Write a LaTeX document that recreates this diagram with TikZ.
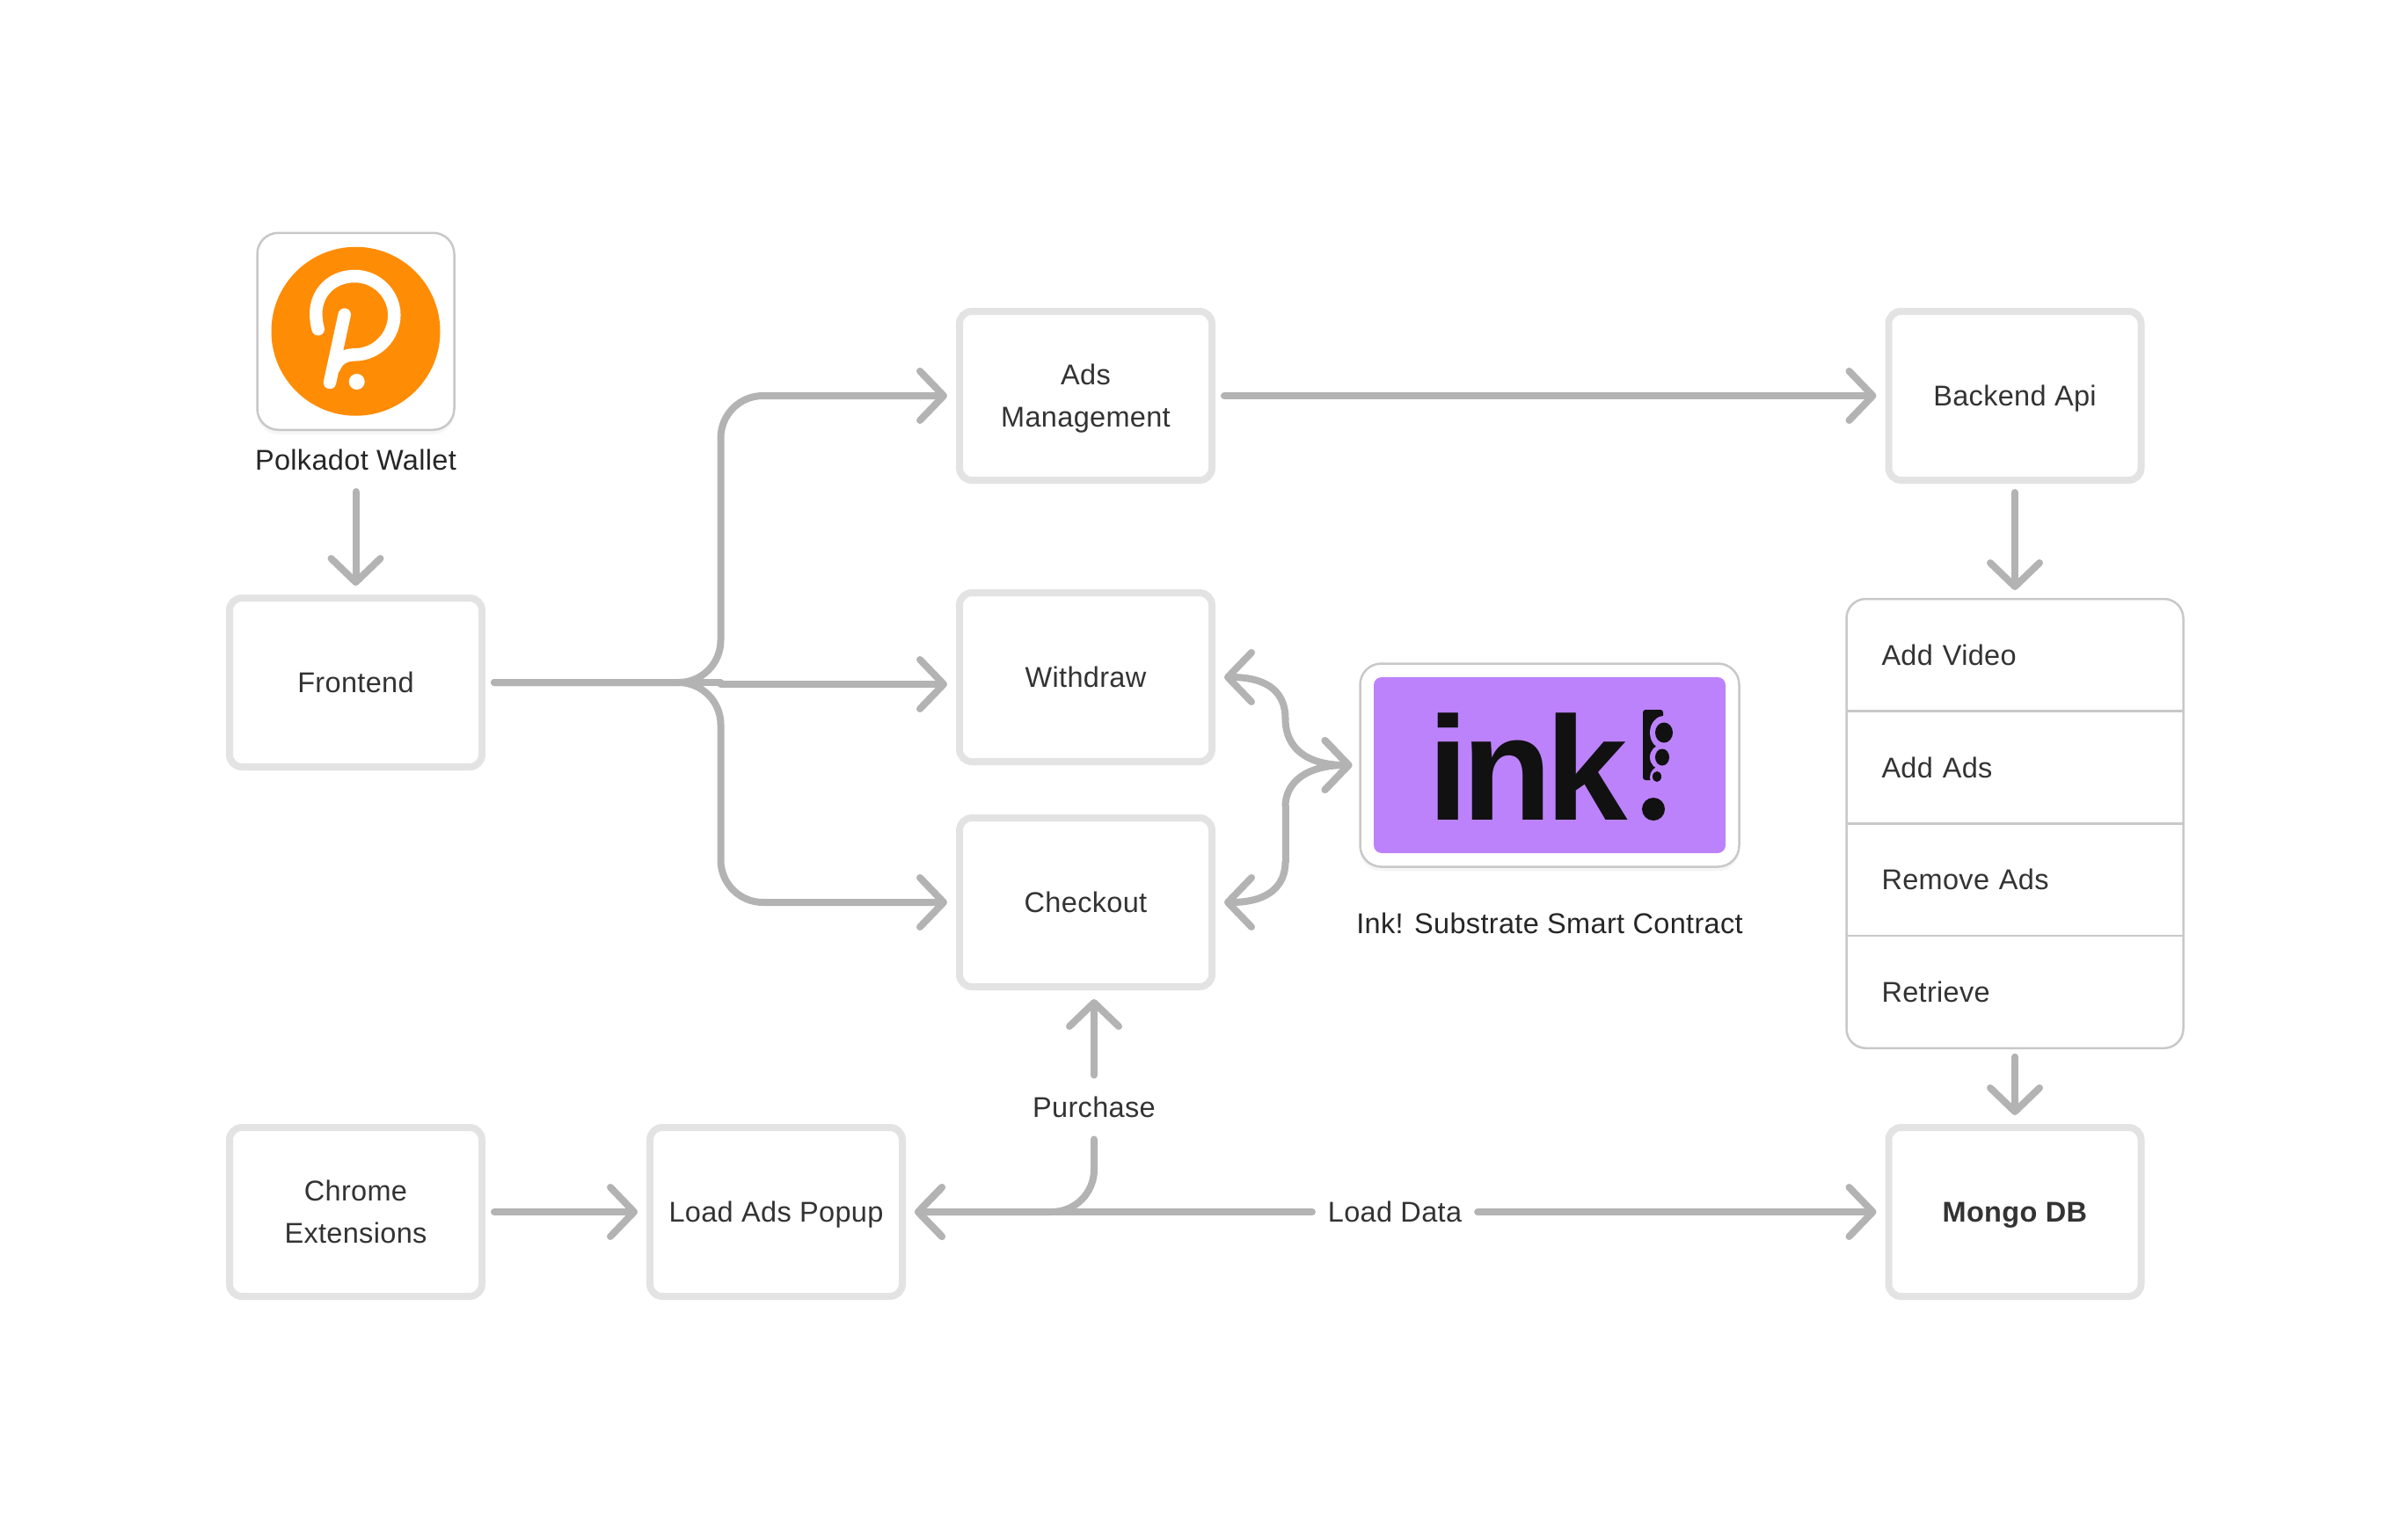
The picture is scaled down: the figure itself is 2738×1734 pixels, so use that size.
\documentclass[tikz,border=0pt]{standalone}
\usepackage{fontspec}
\setmainfont{Liberation Sans}[LetterSpace=1]
\newfontfamily\inkfont{Liberation Sans}[LetterSpace=-4.5]
\usepackage{xcolor}
\usetikzlibrary{positioning, arrows.meta, fit, shadows}
\definecolor{linegray}{HTML}{B3B3B3}
\definecolor{boxgray}{HTML}{E3E3E3}
\definecolor{framegray}{HTML}{C8C8C8}
\definecolor{textgray}{HTML}{333333}
\definecolor{dotorange}{HTML}{FF8C05}
\definecolor{inkpurple}{HTML}{BC82FB}
\definecolor{inkblack}{HTML}{111111}

\begin{document}
\begin{tikzpicture}[
    x=1pt, y=-1pt,
    every node/.style={font=\fontsize{32.5}{48}\selectfont, text=textgray},
    box/.style  ={draw=boxgray, line width=8pt, rounded corners=14pt, align=center, minimum width=287pt, minimum height=192pt, inner sep=2pt, outer sep=14pt, text depth=0pt},
    frame/.style={draw=framegray, line width=2.5pt, fill=white, rounded corners=24pt, inner sep=0pt, drop shadow={opacity=.07, shadow xshift=0pt, shadow yshift=-5pt}},
    row/.style  ={minimum height=127.7pt, text width=303pt, inner xsep=40pt, inner ysep=0pt, outer sep=0pt, align=left, text height=23pt, text depth=0pt},
    tag/.style  ={inner sep=0pt, outer xsep=18pt, outer ysep=25pt, text height=23pt, text depth=0pt},
    arr/.style  ={-{Straight Barb[length=27pt,width=56pt,round]}, line width=8pt, draw=linegray, line cap=round, line join=round},
    seg/.style  ={line width=8pt, draw=linegray, line cap=round},
    div/.style  ={line width=2.5pt, draw=framegray},
    pmark/.style={line width=14.5pt, draw=white, line cap=round, line join=round}
]
\useasboundingbox (0,0) rectangle (2738,1734);

% Left column
\node[box] (fe) at (404.5,776) {Frontend};
\node[box, below=382pt of fe] (ce) {Chrome\\Extensions};
\node[frame, above=176pt of fe, minimum width=224pt, minimum height=224pt] (pw) {};
\node[tag, below=-4pt of pw, text=black!85] (pwl) {Polkadot Wallet};

% Polkadot logo
\node[circle, fill=dotorange, minimum size=192pt, inner sep=0pt] (pdot) at (pw) {};
\draw[pmark] (361.7,374.3) .. controls (360,368) and (359.3,362) .. (359.3,356.7)
    .. controls (359.3,332) and (378,314) .. (403.3,314)
    .. controls (428,314) and (448.3,334) .. (448.3,358.3)
    .. controls (448.3,383) and (428,403.3) .. (403.3,403.3)
    .. controls (392,403.5) and (384,408) .. (380,418);
\draw[pmark] (391.7,357.7) -- (375,435);
\fill[white] (405.7,434) circle (9);

% Middle column
\node[box, right=515pt of fe, yshift=326pt] (ads) {Ads\\Management};
\node[box, below=100pt of ads] (wd) {Withdraw};
\node[box, below=36pt of wd] (ck) {Checkout};
\node[box, right=163pt of ce] (la) {Load Ads Popup};

% Right column
\node[box, right=741.5pt of ads] (api) {Backend Api};
\node[box, below=708pt of api] (mg) {\textbf{Mongo DB}};
\node[row, below=121pt of api] (r1) {Add Video};
\node[row, below=0pt of r1] (r2) {Add Ads};
\node[row, below=0pt of r2] (r3) {Remove Ads};
\node[row, below=0pt of r3] (r4) {Retrieve};
\node[fit=(r1)(r4), draw=framegray, line width=2.5pt, rounded corners=22pt, inner sep=0pt, outer sep=10pt] (lst) {};
\draw[div] (r1.south west) -- (r1.south east);
\draw[div] (r2.south west) -- (r2.south east);
\draw[div] (r3.south west) -- (r3.south east);

% Ink block
\node[frame, minimum width=431pt, minimum height=231pt, outer sep=9pt] (ink) at (1762,870) {};
\node[fill=inkpurple, rounded corners=9pt, minimum width=400pt, minimum height=200pt, inner sep=0pt] (logo) at (ink) {};
\node[font=\inkfont\bfseries\fontsize{168}{168}\selectfont, text=inkblack, inner sep=0pt, text height=125pt, text depth=0pt] (word) at (1737,870) {ink};
\fill[inkblack, rounded corners=3pt] (1868,807) rectangle (1891,887);
\fill[inkpurple] (1892,833) ellipse (16 and 19);
\fill[inkpurple] (1889,861) ellipse (13 and 14);
\fill[inkpurple] (1886,884) ellipse (10 and 12);
\fill[inkblack] (1892,833) ellipse (10 and 11.5);
\fill[inkblack] (1890,861) ellipse (8 and 9.5);
\fill[inkblack] (1884,883) ellipse (5 and 6);
\fill[inkblack] (1880,920) ellipse (13 and 13);
\node[tag, below=19pt of ink, text=black!85] (inkl) {Ink! Substrate Smart Contract};

% Labels on the lower lines
\node[tag] (pur) at (1244,1259) {Purchase};
\node[tag] (ldat) at (1586,1378) {Load Data};

% Helpers for the fork
\coordinate (trunk) at (819.5,776);
\coordinate (jog) at (819.5,778);
\coordinate (wdtip) at (1077,778);
\coordinate (inkup) at (1461.5,817);
\coordinate (inkdn) at (1461.5,917);
\coordinate (inklow) at (1461.5,980);

% Arrows
\draw[arr] (pwl) -- (fe);
\draw[seg] (fe.east) -- (trunk);
\draw[arr] (jog) -- (wdtip);
\draw[arr, rounded corners=48pt] (fe.east) -- (trunk) |- (ads.west);
\draw[arr, rounded corners=48pt] (fe.east) -- (trunk) |- (ck.west);
\draw[arr] (ads) -- (api);
\draw[arr] (api) -- (lst);
\draw[arr] (lst) -- (mg);
\draw[arr] (ce) -- (la);
\draw[arr] (pur.north) -- (pur.north |- ck.south);
\draw[arr, rounded corners=48pt] (pur.south) |- (la.east);
\draw[arr] (ldat.west) -- (la.east);
\draw[arr] (ldat.east) -- (mg.west);
\draw[arr] (inkup) .. controls (1461.5,790) and (1445,770) .. (wd.east);
\draw[arr] (inkup) .. controls (1461.5,850) and (1485,870) .. (ink.west);
\draw[arr] (inkdn) .. controls (1461.5,890) and (1485,870) .. (ink.west);
\draw[seg] (inkdn) -- (inklow);
\draw[arr] (inklow) .. controls (1461.5,1005) and (1445,1026) .. (ck.east);
\end{tikzpicture}
\end{document}
